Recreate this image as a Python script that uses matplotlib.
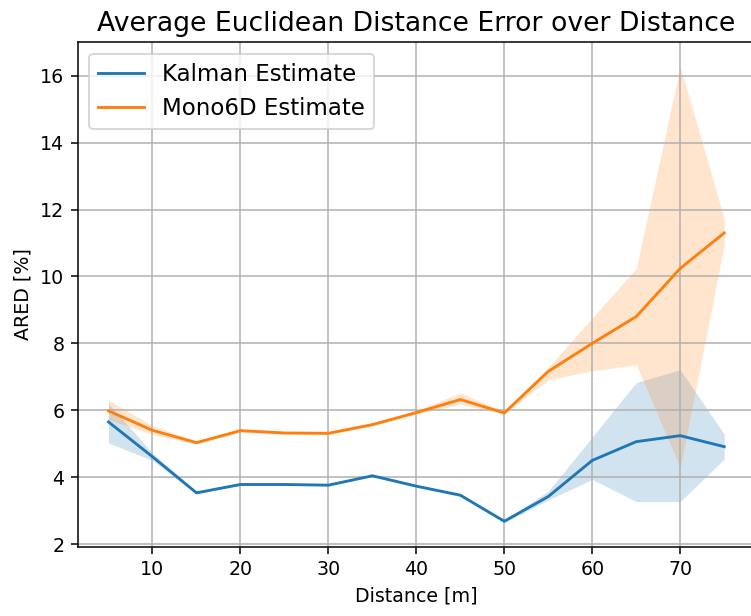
import matplotlib
matplotlib.use("Agg")
import matplotlib.pyplot as plt
import numpy as np

distance = [5, 10, 15, 20, 25, 30, 35, 40, 45, 50, 55, 60, 65, 70, 75]

kalman = [5.65, 4.61, 3.53, 3.78, 3.78, 3.76, 4.04, 3.73, 3.46, 2.68, 3.42, 4.50, 5.06, 5.24, 4.91]
kalman_lo = [5.02, 4.50, 3.50, 3.76, 3.76, 3.74, 4.02, 3.70, 3.42, 2.64, 3.32, 3.93, 3.27, 3.27, 4.54]
kalman_hi = [6.20, 4.72, 3.56, 3.80, 3.80, 3.78, 4.06, 3.76, 3.50, 2.72, 3.58, 5.20, 6.83, 7.21, 5.29]

mono = [5.98, 5.40, 5.03, 5.39, 5.32, 5.31, 5.57, 5.93, 6.32, 5.92, 7.16, 8.00, 8.80, 10.24, 11.30]
mono_lo = [5.72, 5.28, 4.98, 5.35, 5.28, 5.27, 5.53, 5.88, 6.18, 5.88, 6.91, 7.18, 7.36, 4.28, 10.95]
mono_hi = [6.30, 5.54, 5.08, 5.43, 5.36, 5.35, 5.61, 5.98, 6.52, 5.96, 7.28, 8.76, 10.24, 16.28, 11.72]

title = "Average Euclidean Distance Error over Distance"
xlabel = "Distance [m]"
ylabel = "ARED [%]"

DPI = 137
fig = plt.figure(figsize=(751 / DPI, 616 / DPI), dpi=DPI)
ax = fig.add_axes([77.7 / 751, (616 - 546.7) / 616, (755 - 77.7) / 751, (546.7 - 42.3) / 616])

ax.plot(distance, kalman, color="C0", label="Kalman Estimate")
ax.fill_between(distance, kalman_lo, kalman_hi, color="C0", alpha=0.2, linewidth=0)
ax.plot(distance, mono, color="C1", label="Mono6D Estimate")
ax.fill_between(distance, mono_lo, mono_hi, color="C1", alpha=0.2, linewidth=0)

ax.set_xlim(1.5, 78.5)
ax.set_ylim(1.92, 17.0)
ax.set_yticks([2, 4, 6, 8, 10, 12, 14, 16])
ax.set_xticks([10, 20, 30, 40, 50, 60, 70])
ax.grid(True)
ax.set_title(title, fontsize=14)
ax.set_xlabel(xlabel)
ax.set_ylabel(ylabel)
ax.legend(loc="upper left", fontsize=12)

fig.savefig("out.png", dpi=DPI)
